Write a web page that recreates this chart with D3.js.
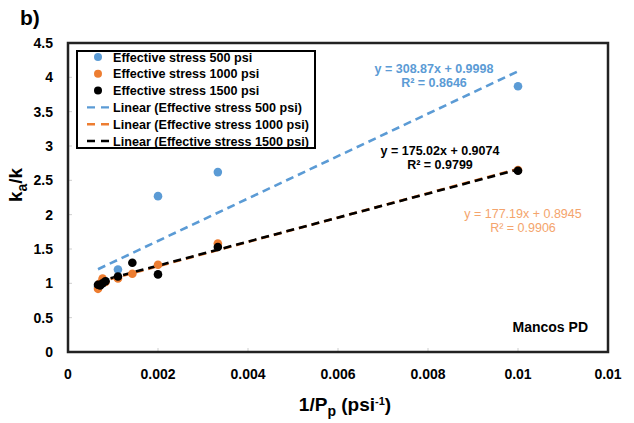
<!DOCTYPE html>
<html>
<head>
<meta charset="utf-8">
<script src="https://cdn.jsdelivr.net/npm/d3@7"></script>
<style>
  body { margin: 0; background: #fff; }
  text { font-family: Arial, "Liberation Sans", sans-serif; }
</style>
</head>
<body>
<div id="chart"></div>
<script>
// data
var invPp = [0.000667, 0.000714, 0.000769, 0.000833, 0.00111, 0.00143, 0.002, 0.00333, 0.01];
var k500  = [0.95, 0.98, 1.00, 1.03, 1.20, null, 2.27, 2.62, 3.87];
var k1000 = [0.92, 1.00, 1.07, 1.02, 1.07, 1.14, 1.27, 1.58, 2.65];
var k1500 = [0.98, 0.97, 1.00, 1.03, 1.10, 1.30, 1.13, 1.53, 2.64];

var seriesNames = ["Effective stress 500 psi", "Effective stress 1000 psi", "Effective stress 1500 psi"];
var slopes = [308.87, 177.19, 175.02];
var intercepts = [0.9998, 0.8945, 0.9074];
var r2 = ["0.8646", "0.9906", "0.9799"];

var xTicks = [0, 0.002, 0.004, 0.006, 0.008, 0.01, 0.012];
var xTickLabels = ["0", "0.002", "0.004", "0.006", "0.008", "0.01", "0.01"];
var yTicks = [0, 0.5, 1, 1.5, 2, 2.5, 3, 3.5, 4, 4.5];

var colors = ["#5b9bd5", "#ed7d31", "#000000"];
var eqColors = ["#5b9bd5", "#f4a46c", "#000000"];

var W = 634, H = 423;
var margin = { top: 43, right: 26, bottom: 71, left: 68 };
var width = W - margin.left - margin.right,
    height = H - margin.top - margin.bottom;

var svg = d3.select("#chart").append("svg")
    .attr("width", W).attr("height", H);

var g = svg.append("g")
    .attr("transform", "translate(" + margin.left + "," + margin.top + ")");

var x = d3.scaleLinear().domain([0, 0.012]).range([0, width]);
var y = d3.scaleLinear().domain([0, 4.5]).range([height, 0]);

// panel label
svg.append("text")
    .attr("x", 20).attr("y", 25)
    .style("font-size", "21px").style("font-weight", "bold")
    .text("b)");

// small inner ticks (light grey)
g.selectAll(".ytick").data(yTicks).enter().append("line")
    .attr("x1", 0).attr("x2", 4)
    .attr("y1", function(d) { return y(d); }).attr("y2", function(d) { return y(d); })
    .attr("stroke", "#cfcfcf");
g.selectAll(".xtick").data(xTicks).enter().append("line")
    .attr("x1", function(d) { return x(d); }).attr("x2", function(d) { return x(d); })
    .attr("y1", height).attr("y2", height - 4)
    .attr("stroke", "#cfcfcf");

// tick labels
g.selectAll(".ylab").data(yTicks).enter().append("text")
    .attr("x", -15).attr("y", function(d) { return y(d) + 5; })
    .attr("text-anchor", "end")
    .style("font-size", "14px").style("font-weight", "bold")
    .text(function(d) { return d; });
g.selectAll(".xlab").data(xTicks).enter().append("text")
    .attr("x", function(d) { return x(d); }).attr("y", height + 27)
    .attr("text-anchor", "middle")
    .style("font-size", "14px").style("font-weight", "bold")
    .text(function(d, i) { return xTickLabels[i]; });

// axis titles
var yt = svg.append("text")
    .attr("transform", "translate(22,185) rotate(-90)")
    .attr("text-anchor", "middle")
    .style("font-size", "19px").style("font-weight", "bold");
yt.append("tspan").text("k");
yt.append("tspan").attr("dy", 5).style("font-size", "14px").text("a");
yt.append("tspan").attr("dy", -5).text("/k");

var xt = svg.append("text")
    .attr("x", 345).attr("y", 411)
    .attr("text-anchor", "middle")
    .style("font-size", "19px").style("font-weight", "bold");
xt.append("tspan").text("1/P");
xt.append("tspan").attr("dy", 5).style("font-size", "14px").text("p");
xt.append("tspan").attr("dy", -5).text(" (psi");
xt.append("tspan").attr("dy", -6).style("font-size", "11px").text("-1");
xt.append("tspan").attr("dy", 6).text(")");

// trend lines from the fitted equations
var series = [k500, k1000, k1500];
var trend = d3.line().x(function(d) { return x(d[0]); }).y(function(d) { return y(d[1]); });
series.forEach(function(s, i) {
    var xs = invPp.filter(function(v, j) { return s[j] != null; });
    var x0 = d3.min(xs), x1 = d3.max(xs);
    g.append("path")
        .datum([[x0, slopes[i] * x0 + intercepts[i]], [x1, slopes[i] * x1 + intercepts[i]]])
        .attr("d", trend)
        .attr("fill", "none")
        .attr("stroke", colors[i])
        .attr("stroke-width", 2.6)
        .attr("stroke-dasharray", "8,5");
});

// points
series.forEach(function(s, i) {
    g.append("g").selectAll("circle")
        .data(invPp.map(function(v, j) { return [v, s[j]]; }).filter(function(d) { return d[1] != null; }))
        .enter().append("circle")
        .attr("cx", function(d) { return x(d[0]); })
        .attr("cy", function(d) { return y(d[1]); })
        .attr("r", 4.3)
        .attr("fill", colors[i]);
});

// frame
g.append("rect")
    .attr("x", 0).attr("y", 0).attr("width", width).attr("height", height)
    .attr("fill", "none").attr("stroke", "#222").attr("stroke-width", 2.5);

// equation labels
var eqPos = [[434, 73], [523, 218], [440, 155]];
var eqWeight = ["bold", "normal", "bold"];
series.forEach(function(s, i) {
    var t = svg.append("text")
        .attr("text-anchor", "middle")
        .attr("fill", eqColors[i])
        .style("font-size", "12.5px").style("font-weight", eqWeight[i]);
    t.append("tspan").attr("x", eqPos[i][0]).attr("y", eqPos[i][1])
        .text("y = " + slopes[i].toFixed(2) + "x + " + intercepts[i].toFixed(4));
    t.append("tspan").attr("x", eqPos[i][0]).attr("y", eqPos[i][1] + 14)
        .text("R² = " + r2[i]);
});

svg.append("text")
    .attr("x", 588).attr("y", 332)
    .attr("text-anchor", "end")
    .style("font-size", "14px").style("font-weight", "bold")
    .text("Mancos PD");

// legend
var lg = svg.append("g");
lg.append("rect")
    .attr("x", 77).attr("y", 51).attr("width", 238).attr("height", 97)
    .attr("fill", "#fff").attr("stroke", "#000").attr("stroke-width", 2);
var legendItems = seriesNames.map(function(n, i) { return { label: n, type: "dot", c: colors[i] }; })
    .concat(seriesNames.map(function(n, i) { return { label: "Linear (" + n + ")", type: "line", c: colors[i] }; }));
legendItems.forEach(function(d, i) {
    var cy = 57 + i * 16.8;
    if (d.type === "dot") {
        lg.append("circle").attr("cx", 98).attr("cy", cy).attr("r", 4).attr("fill", d.c);
    } else {
        lg.append("line").attr("x1", 87).attr("x2", 109).attr("y1", cy).attr("y2", cy)
            .attr("stroke", d.c).attr("stroke-width", 2.4).attr("stroke-dasharray", "8,6");
    }
    lg.append("text").attr("x", 113).attr("y", cy + 4.5)
        .style("font-size", "12.6px").style("font-weight", "bold")
        .text(d.label);
});
</script>
</body>
</html>
